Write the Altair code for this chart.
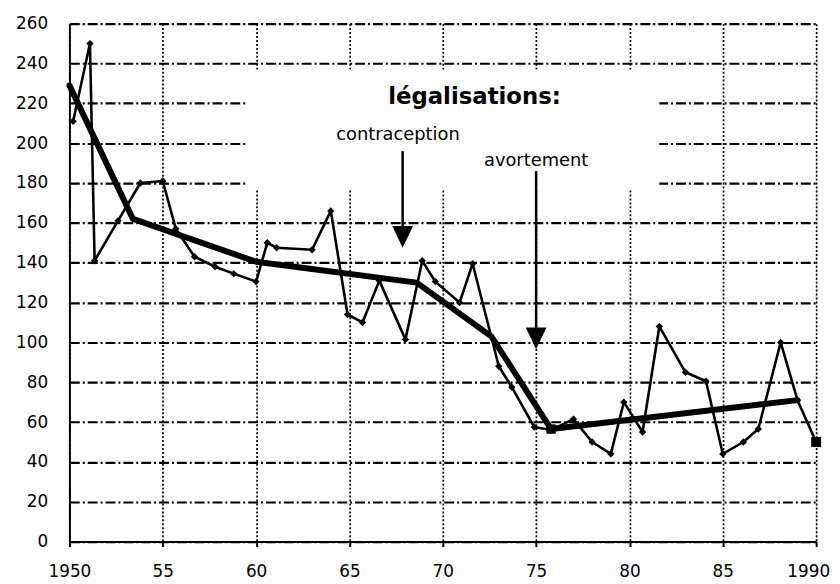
import altair as alt
import pandas as pd

# ---- data ----
years_thin = [1950.2, 1951.1, 1951.35, 1952.6, 1953.8, 1955.0, 1955.7, 1956.7, 1957.8, 1958.8,
              1960.0, 1960.6, 1961.1, 1963.0, 1964.0, 1964.9, 1965.7, 1966.6, 1968.0, 1968.9,
              1969.6, 1970.9, 1971.6, 1973.0, 1973.7, 1974.9, 1975.8, 1977.0, 1978.0, 1979.0,
              1979.7, 1980.7, 1981.6, 1983.0, 1984.1, 1985.0, 1986.1, 1986.9, 1988.1, 1989.0,
              1990.0]
values_thin = [211, 250, 141, 161, 180, 181, 157, 143, 138, 134.5,
               130.5, 150, 147.5, 146.5, 166, 114, 110, 131, 101.5, 141,
               130.5, 120, 139.5, 88, 77.5, 57.5, 56, 61.5, 50, 44,
               70, 55, 108, 85, 80.5, 44, 50, 56.5, 100, 71,
               50]

years_trend = [1950.0, 1953.4, 1960.0, 1968.6, 1972.6, 1975.8, 1989.0]
values_trend = [229, 162, 140.5, 130, 103, 56.5, 71]

x_ticks = [1950, 1955, 1960, 1965, 1970, 1975, 1980, 1985, 1990]
y_ticks = list(range(0, 261, 20))

# annotations
title_text = "légalisations:"
arrow_labels = ["contraception", "avortement"]
arrow_years = [1967.85, 1975.0]
arrow_tops = [196, 186]
arrow_heads = [153, 102]
label_years = [1967.6, 1975.0]
label_values = [204, 191]

thin = pd.DataFrame({"year": years_thin, "value": values_thin})
trend = pd.DataFrame({"year": years_trend, "value": values_trend})
last = thin.tail(1)

FONT = "DejaVu Sans"

x_axis = alt.Axis(values=x_ticks, title=None, grid=True, gridDash=[2, 2], gridWidth=1.7,
                  gridColor="black", gridOpacity=1, domainColor="black", domainWidth=2,
                  tickColor="black", tickSize=5, tickWidth=2, labelFont=FONT, labelFontSize=17,
                  labelColor="black", labelPadding=17, labelFlush=False,
                  labelExpr="(datum.value == 1950 || datum.value == 1990) ? '' + datum.value : substring('' + datum.value, 2, 4)",
                  labelOffset={"condition": {"test": "datum.value == 1990", "value": -8}, "value": 0})
y_axis = alt.Axis(values=y_ticks, title=None, grid=True, gridDash=[10, 3, 2, 3], gridWidth=2.2,
                  gridColor="black", gridOpacity=1, domainColor="black", domainWidth=2,
                  ticks=False, labelFont=FONT, labelFontSize=17, labelColor="black",
                  labelPadding=22, labelFlush=False)
x_scale = alt.Scale(domain=[1950, 1990], nice=False, zero=False)
y_scale = alt.Scale(domain=[0, 260], nice=False)


def X(field="year"):
    return alt.X(f"{field}:Q", scale=x_scale, axis=x_axis)


def Y(field="value"):
    return alt.Y(f"{field}:Q", scale=y_scale, axis=y_axis)


box = alt.Chart(pd.DataFrame({"year": [1959.5], "year2": [1981.6], "value": [177], "value2": [237]})).mark_rect(
    color="white", opacity=1
).encode(x=X(), x2="year2:Q", y=Y(), y2="value2:Q")

thin_line = alt.Chart(thin).mark_line(color="black", strokeWidth=2.6, strokeJoin="round").encode(x=X(), y=Y())
thin_pts = alt.Chart(thin).mark_point(shape="diamond", size=55, filled=True, color="black", opacity=1).encode(x=X(), y=Y())
last_pt = alt.Chart(last).mark_point(shape="square", size=100, filled=True, color="black", opacity=1).encode(x=X(), y=Y())

trend_line = alt.Chart(trend).mark_line(color="black", strokeWidth=6, strokeJoin="round", strokeCap="round").encode(x=X(), y=Y())
trend_end = alt.Chart(trend.iloc[[5]]).mark_point(shape="square", size=90, filled=True, color="black", opacity=1).encode(x=X(), y=Y())

arrows = pd.DataFrame({"year": arrow_years, "value": arrow_heads, "top": arrow_tops})
shafts = alt.Chart(arrows).mark_rule(color="black", strokeWidth=2.5).encode(x=X(), y=Y(), y2="top:Q")
heads = alt.Chart(arrows).mark_point(shape="M-1,-1.05L1,-1.05L0,1.05Z", size=440, filled=True,
                                     color="black", opacity=1).encode(x=X(), y=Y())

labels = alt.Chart(pd.DataFrame({"year": label_years, "value": label_values, "t": arrow_labels})).mark_text(
    font=FONT, fontSize=18, color="black", align="center", baseline="middle"
).encode(x=X(), y=Y(), text="t:N")

legal = alt.Chart(pd.DataFrame({"year": [1971.7], "value": [223], "t": [title_text]})).mark_text(
    font=FONT, fontSize=23, fontWeight="bold", color="black", align="center", baseline="middle"
).encode(x=X(), y=Y(), text="t:N")

chart = alt.layer(box, thin_line, thin_pts, last_pt, trend_line, trend_end, shafts, heads, labels, legal).properties(
    width=754, height=523, autosize="none",
    padding={"left": 62, "top": 13, "right": 16, "bottom": 38}
).configure_view(stroke=None).configure(background="white")

chart.save("out.html", embed_options={"renderer": "svg", "actions": False})
